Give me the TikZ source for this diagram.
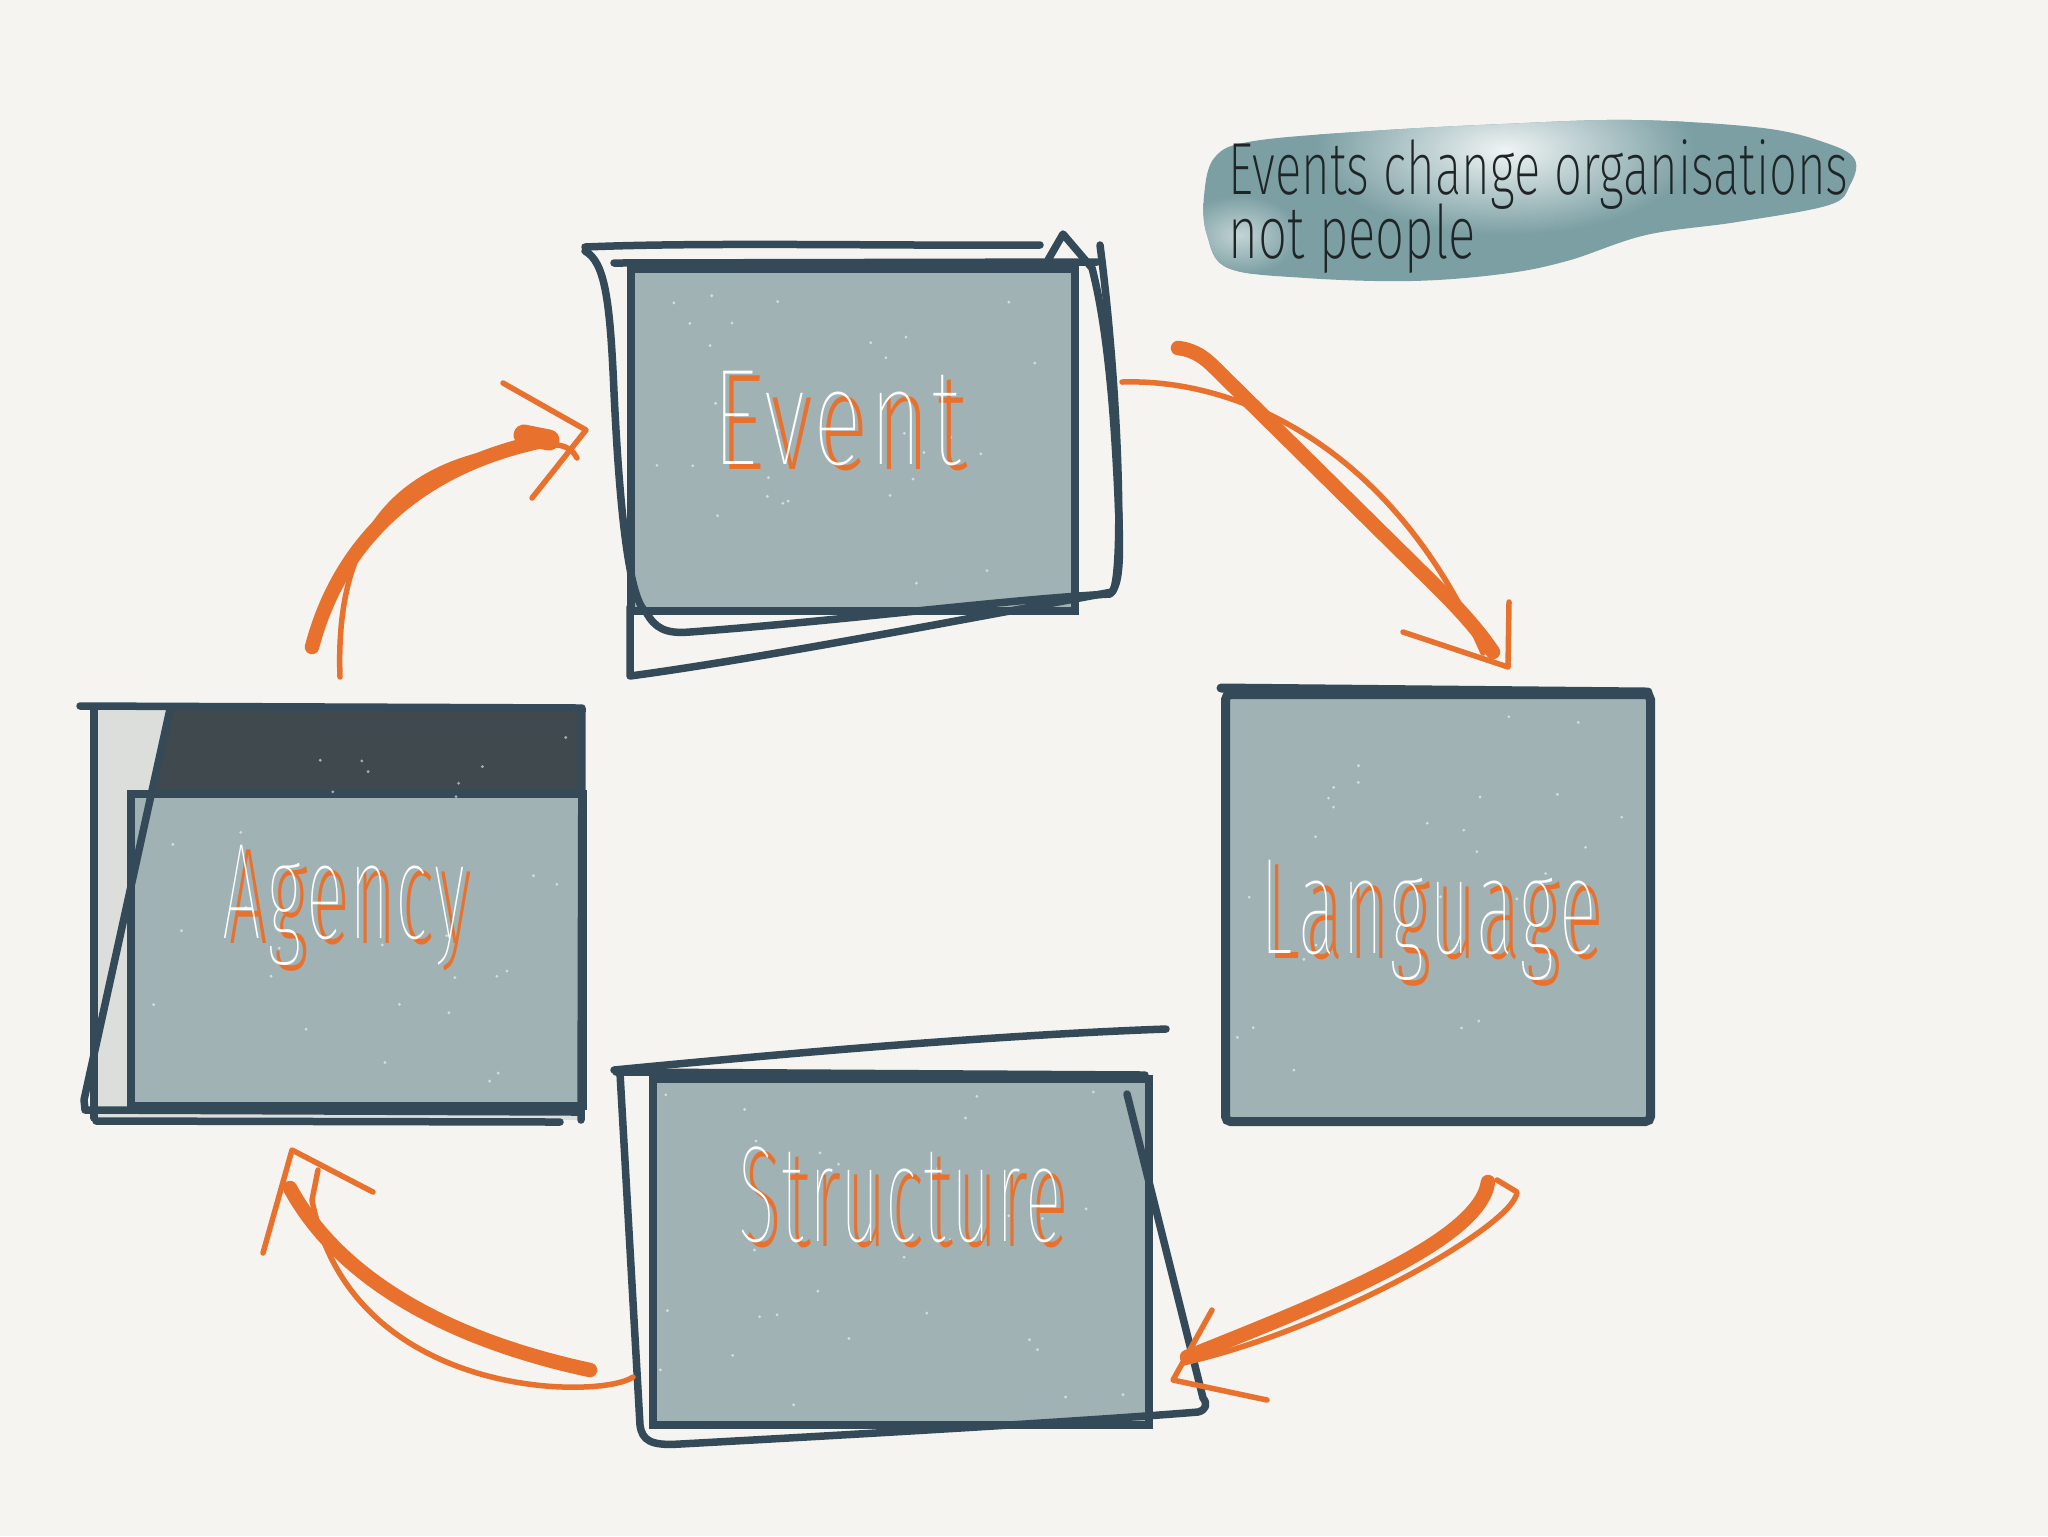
\documentclass[tikz,border=0pt]{standalone}
\usepackage{fontspec}
\usepackage{graphicx}
\setmainfont{Fira Sans}
\newfontfamily\hand{Fira Sans ExtraLight}
\newfontfamily\handthin[LetterSpace=9]{Fira Sans Thin}
\newfontfamily\handshade[LetterSpace=9]{Fira Sans ExtraLight}
\definecolor{bgc}{HTML}{F5F4F0}
\definecolor{ink}{HTML}{344A58}
\definecolor{boxc}{HTML}{A1B2B5}
\definecolor{headc}{HTML}{3F494E}
\definecolor{lgray}{HTML}{DCDEDC}
\definecolor{orng}{HTML}{E8722D}
\definecolor{tealc}{HTML}{7B9FA3}
\definecolor{notec}{HTML}{1F2527}
\newcommand\handlbl[2]{\resizebox{#1}{\height}{\handthin\fontsize{39}{44}\selectfont #2}}
\newcommand\shadelbl[2]{\resizebox{#1}{\height}{\handshade\fontsize{39}{44}\selectfont #2}}
\newcommand\duolbl[2]{\rlap{\kern0.7mm\raisebox{-0.55mm}{\color{orng}\shadelbl{#1}{#2}}}\color{white}\handlbl{#1}{#2}}
\newcommand\notelbl[2]{\resizebox{#1}{\height}{\hand\fontsize{21}{24}\selectfont #2}}
\newcommand\speckles[4]{\foreach \k in {1,...,28}{\pgfmathsetmacro\sx{#1+(#3-#1)*rnd}\pgfmathsetmacro\sy{#2+(#4-#2)*rnd}\fill[white,opacity=0.55] (\sx,\sy) circle[radius=0.45pt];}}
\tikzset{
  boxnode/.style={rectangle, fill=boxc, draw=ink, line width=0.8mm, inner sep=0pt, anchor=north west},
  sketch/.style={draw=ink, line width=0.75mm, line cap=round, line join=round},
  thinarrow/.style={draw=orng, line width=0.55mm, line cap=round, line join=round},
  thickarrow/.style={draw=orng, line width=1.45mm, line cap=round, line join=round},
  lbl/.style={inner sep=0pt, anchor=base west},
  notetxt/.style={text=notec, inner sep=0pt, anchor=base west}
}
\begin{document}
\begin{tikzpicture}[x=0.1mm,y=-0.1mm]
\useasboundingbox (0,0) rectangle (2048,1536);
\fill[bgc] (0,0) rectangle (2048,1536);
\pgfmathsetseed{11}

% ---------- watercolour note ----------
\begin{scope}
\clip plot[smooth cycle, tension=0.6] coordinates {(1204,196) (1215,157) (1254,141) (1371,131) (1502,124) (1633,120) (1763,128) (1829,144) (1855,160) (1850,185) (1829,205) (1737,222) (1646,235) (1567,261) (1502,274) (1411,281) (1306,278) (1228,268) (1207,235)};
\fill[tealc] (1150,80) rectangle (1900,320);
\shade[inner color=white!88!tealc, outer color=tealc] (1505,150) ellipse [x radius=190, y radius=85];
\shade[inner color=white!55!tealc, outer color=tealc] (1240,235) ellipse [x radius=60, y radius=40];
\end{scope}
\node[notetxt] (note1) at (1228,194) {\notelbl{62mm}{Events change organisations}};
\node[notetxt] (note2) at (1228,258) {\notelbl{24.7mm}{not people}};

% ---------- Event ----------
\node[boxnode, minimum width=44.4mm, minimum height=34.2mm] (event) at (627,265) {};
\speckles{640}{280}{1060}{600}
\draw[sketch] (614,263) -- (1097,262);
\draw[sketch] (585,247) .. controls (700,242) and (900,246) .. (1040,245);
\draw[sketch] (585,251) .. controls (605,262) and (610,300) .. (614,392) .. controls (620,520) and (630,600) .. (646,612) .. controls (655,628) and (665,634) .. (690,632) .. controls (850,620) and (1000,600) .. (1110,594) .. controls (1120,585) and (1120,560) .. (1119,520) .. controls (1115,420) and (1108,330) .. (1092,268) -- (1063,234) -- (1048,260);
\draw[sketch] (630,607) -- (630,676) .. controls (750,660) and (950,622) .. (1112,592) .. controls (1124,580) and (1120,400) .. (1100,245);
\node[lbl] (eventlbl) at (712,464) {\duolbl{24.8mm}{Event}};

% ---------- Language ----------
\node[boxnode, rounded corners=0.5mm, line width=0.9mm, minimum width=42.5mm, minimum height=42.7mm] (language) at (1221,690) {};
\speckles{1235}{705}{1635}{1105}
\draw[sketch, line width=0.9mm] (1221,688) -- (1648,692);
\node[lbl] (langlbl) at (1260,953) {\duolbl{33.6mm}{Language}};

% ---------- Structure ----------
\node[boxnode, minimum width=49.6mm, minimum height=34.6mm] (structure) at (649,1075) {};
\speckles{660}{1090}{1135}{1410}
\draw[sketch] (616,1072) -- (1145,1075);
\draw[sketch] (614,1070) .. controls (800,1052) and (1000,1035) .. (1166,1029);
\draw[sketch] (620,1073) -- (640,1425) .. controls (642,1440) and (650,1446) .. (680,1444) .. controls (900,1432) and (1100,1420) .. (1198,1412) .. controls (1206,1410) and (1208,1404) .. (1203,1398) -- (1127,1094);
\node[lbl] (structlbl) at (738,1241) {\duolbl{32.3mm}{Structure}};

% ---------- Agency ----------
\fill[lgray] (93,707) rectangle (579,1120);
\fill[headc] (170,707) -- (579,707) -- (579,790) -- (152,790) -- cycle;
\node[boxnode, minimum width=45.2mm, minimum height=31.2mm] (agency) at (127,790) {};
\speckles{140}{720}{570}{1090}
\draw[sketch] (80,706) -- (582,708) -- (581,1120);
\draw[sketch] (94,709) -- (94,1118);
\draw[sketch] (170,709) -- (84,1100) -- (85,1109);
\draw[sketch] (85,1110) -- (579,1112);
\draw[sketch] (96,1121) -- (560,1122);
\node[lbl] (agencylbl) at (222,938) {\duolbl{24.2mm}{Agency}};

% ---------- arrow Agency -> Event ----------
\coordinate (a1s) at (312,647);
\coordinate (a1e) at (547,440);
\coordinate (a1t) at (340,677);
\coordinate (a1u) at (577,458);
\draw[thickarrow] (a1s) .. controls (340,540) and (420,465) .. (a1e);
\draw[orng, line width=2.1mm, line cap=round] (524,435) -- (549,440);
\draw[thinarrow] (a1t) .. controls (335,540) and (390,450) .. (557,445) .. controls (568,446) and (574,452) .. (a1u);
\draw[thinarrow] (503,383) -- (586,430) -- (532,498);

% ---------- arrow Event -> Language ----------
\coordinate (a2s) at (1178,348);
\coordinate (a2e) at (1493,652);
\coordinate (a2t) at (1122,382);
\coordinate (a2u) at (1483,653);
\draw[thickarrow] (a2s) .. controls (1195,350) and (1205,358) .. (1215,368) -- (1440,590) .. controls (1470,620) and (1485,640) .. (a2e);
\draw[thinarrow] (a2t) .. controls (1250,378) and (1400,460) .. (a2u);
\draw[thinarrow] (1403,632) -- (1508,667) -- (1509,602);

% ---------- arrow Language -> Structure ----------
\coordinate (a3s) at (1488,1182);
\coordinate (a3e) at (1187,1357);
\coordinate (a3t) at (1497,1180);
\coordinate (a3u) at (1183,1363);
\draw[thickarrow] (a3s) .. controls (1480,1240) and (1330,1300) .. (a3e);
\draw[thinarrow] (a3t) -- (1517,1192) .. controls (1515,1225) and (1330,1330) .. (a3u);
\draw[thinarrow] (1212,1310) -- (1173,1380) -- (1267,1400);

% ---------- arrow Structure -> Agency ----------
\coordinate (a4s) at (590,1370);
\coordinate (a4e) at (290,1188);
\coordinate (a4t) at (633,1377);
\coordinate (a4u) at (318,1170);
\draw[thickarrow] (a4s) .. controls (450,1340) and (340,1280) .. (a4e);
\draw[thinarrow] (a4t) .. controls (600,1400) and (350,1400) .. (312,1200) -- (a4u);
\draw[thinarrow] (263,1253) -- (292,1150) -- (373,1192);
\end{tikzpicture}
\end{document}
